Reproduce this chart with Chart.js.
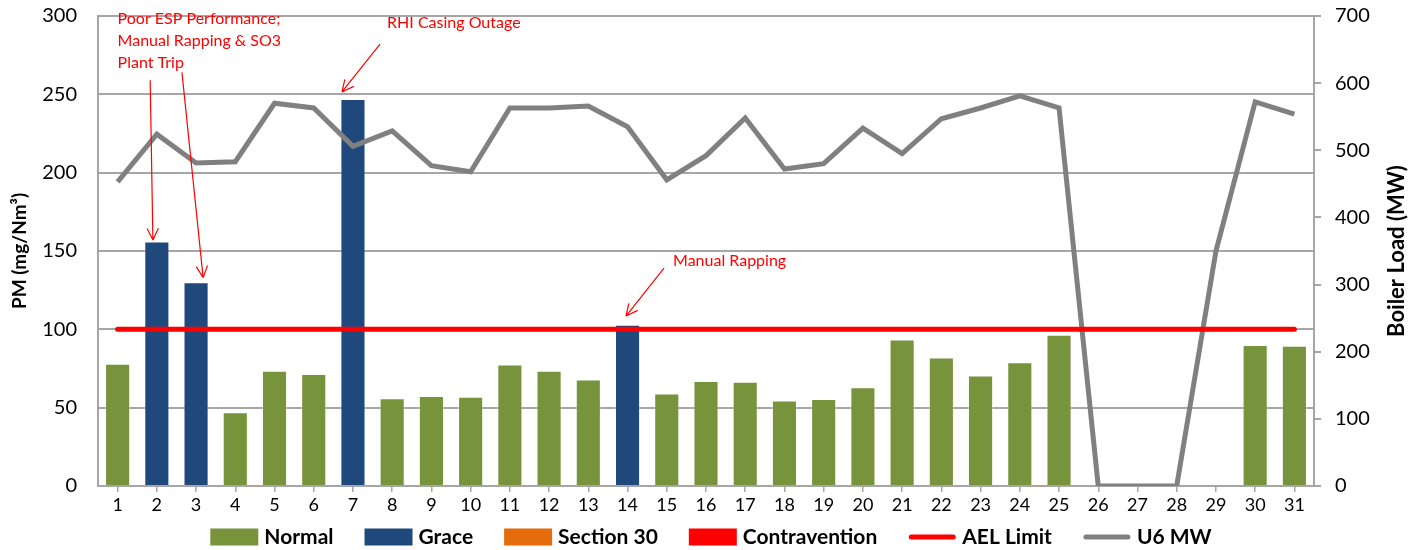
<!DOCTYPE html>
<html>
<head>
<meta charset="utf-8">
<script src="https://cdn.jsdelivr.net/npm/chart.js@4.4.1/dist/chart.umd.min.js"></script>
<style>
  html, body { margin: 0; padding: 0; background: #fff; }
  #wrap { width: 1422px; height: 550px; }
</style>
</head>
<body>
<div id="wrap"><canvas id="pmChart"></canvas></div>
<script>
// === Daily PM vs Boiler Load ===

const days = ['1', '2', '3', '4', '5', '6', '7', '8', '9', '10', '11', '12', '13', '14', '15', '16',
  '17', '18', '19', '20', '21', '22', '23', '24', '25', '26', '27', '28', '29', '30', '31'];

const pmValues = [78, 156, 130, 47, 73.5, 71.5, 247, 56, 57.5, 57, 77.5, 73.5, 68, 103, 59, 67,
  66.5, 54.5, 55.5, 63, 93.5, 82, 70.5, 79, 96.5, null, null, null, null, 90, 89.5];

const pmStatus = ['Normal', 'Grace', 'Grace', 'Normal', 'Normal', 'Normal', 'Grace', 'Normal',
  'Normal', 'Normal', 'Normal', 'Normal', 'Normal', 'Grace', 'Normal', 'Normal', 'Normal', 'Normal',
  'Normal', 'Normal', 'Normal', 'Normal', 'Normal', 'Normal', 'Normal', 'Normal', 'Normal', 'Normal',
  'Normal', 'Normal', 'Normal'];

const aelLimit = [100, 100, 100, 100, 100, 100, 100, 100, 100, 100, 100, 100, 100, 100, 100, 100,
  100, 100, 100, 100, 100, 100, 100, 100, 100, 100, 100, 100, 100, 100, 100];

const u6MW = [453, 524, 481, 483, 570, 563, 506, 529, 477, 468, 563, 563, 566, 535, 456, 492,
  548, 472, 480, 533, 495, 547, 563, 581, 563, 0, 0, 0, 350, 572, 554];

const statusColors = {
  'Normal': '#77933c',
  'Grace': '#1f497d',
  'Section 30': '#e46c0a',
  'Contravention': '#ff0000'
};

// annotation text / arrows, in (day index, PM) coordinates
const notes = [
  { lines: ['Poor ESP Performance;', 'Manual Rapping & SO3', 'Plant Trip'], x: 0, y: 298 },
  { lines: ['RHI Casing Outage'], x: 6.87, y: 295.5 },
  { lines: ['Manual Rapping'], x: 14.16, y: 144 }
];
const arrows = [
  { from: [0.83, 259], to: [0.9, 157] },
  { from: [1.64, 264], to: [2.18, 133] },
  { from: [6.69, 282], to: [5.72, 251.5] },
  { from: [13.93, 139], to: [12.96, 108.5] }
];

const FONT = 'Lato, "Open Sans", sans-serif';
const GRID = '#a6a6a6';

const barSets = Object.keys(statusColors).map(status => ({
  type: 'bar',
  label: status,
  data: pmValues.map((v, i) => pmStatus[i] === status ? v : null),
  backgroundColor: statusColors[status],
  borderColor: 'rgba(255,255,255,0.35)',
  borderWidth: 1,
  grouped: false,
  barPercentage: 0.64,
  categoryPercentage: 1,
  yAxisID: 'y',
  order: 2
}));

const annotations = {
  id: 'annotations',
  afterDatasetsDraw(chart) {
    const { ctx, scales: { x, y } } = chart;
    ctx.save();
    ctx.fillStyle = '#ff0000';
    ctx.strokeStyle = '#ff0000';
    ctx.lineWidth = 1.2;
    ctx.font = '16px ' + FONT;
    ctx.textAlign = 'left';
    ctx.textBaseline = 'middle';
    notes.forEach(n => {
      const px = x.getPixelForValue(n.x);
      const py = y.getPixelForValue(n.y);
      n.lines.forEach((t, k) => ctx.fillText(t, px, py + k * 22));
    });
    arrows.forEach(a => {
      const x0 = x.getPixelForValue(a.from[0]), y0 = y.getPixelForValue(a.from[1]);
      const x1 = x.getPixelForValue(a.to[0]), y1 = y.getPixelForValue(a.to[1]);
      const ang = Math.atan2(y1 - y0, x1 - x0);
      ctx.beginPath();
      ctx.moveTo(x0, y0);
      ctx.lineTo(x1, y1);
      [0.45, -0.45].forEach(d => {
        ctx.moveTo(x1, y1);
        ctx.lineTo(x1 - 13 * Math.cos(ang + d), y1 - 13 * Math.sin(ang + d));
      });
      ctx.stroke();
    });

    // right axis title reads bottom-to-top like the left one
    const r = chart.scales.y1;
    ctx.fillStyle = '#000';
    ctx.font = 'bold 22px ' + FONT;
    ctx.textAlign = 'center';
    ctx.textBaseline = 'middle';
    ctx.translate(1397, (r.top + r.bottom) / 2);
    ctx.rotate(-Math.PI / 2);
    ctx.fillText('Boiler Load (MW)', 0, 0);
    ctx.restore();
  }
};

// legend drawn by hand so spacing matches the original
const bottomLegend = {
  id: 'bottomLegend',
  afterDraw(chart) {
    const ctx = chart.ctx;
    const items = chart.data.datasets.map(ds => ({
      label: ds.label,
      color: ds.type === 'line' ? ds.borderColor : ds.backgroundColor,
      line: ds.type === 'line'
    }));
    ctx.save();
    ctx.font = 'bold 21px ' + FONT;
    ctx.textBaseline = 'middle';
    const boxW = 48, boxH = 17, gap = 6, spacing = 31;
    const widths = items.map(it => boxW + gap + ctx.measureText(it.label).width);
    const total = widths.reduce((s, w) => s + w, 0) + spacing * (items.length - 1);
    let cx = chart.width / 2 - total / 2;
    const cy = 537;
    items.forEach((it, i) => {
      if (it.line) {
        ctx.strokeStyle = it.color;
        ctx.lineWidth = 5;
        ctx.lineCap = 'round';
        ctx.beginPath();
        ctx.moveTo(cx + 3, cy);
        ctx.lineTo(cx + boxW - 3, cy);
        ctx.stroke();
      } else {
        ctx.fillStyle = it.color;
        ctx.fillRect(cx, cy - boxH / 2, boxW, boxH);
      }
      ctx.fillStyle = '#000';
      ctx.fillText(it.label, cx + boxW + gap, cy);
      cx += widths[i] + spacing;
    });
    ctx.restore();
  }
};

// fixed axis widths; let the top tick labels hang above the plot like Excel does
const fitY = width => s => {
  s.width = width;
  s.paddingTop = 0;
  s.paddingBottom = 0;
};

new Chart(document.getElementById('pmChart'), {
  data: {
    labels: days,
    datasets: [
      ...barSets,
      {
        type: 'line',
        label: 'AEL Limit',
        data: aelLimit,
        borderColor: '#ff0000',
        backgroundColor: '#ff0000',
        borderWidth: 5,
        borderCapStyle: 'round',
        pointRadius: 0,
        yAxisID: 'y',
        order: 0
      },
      {
        type: 'line',
        label: 'U6 MW',
        data: u6MW,
        borderColor: '#808080',
        backgroundColor: '#808080',
        borderWidth: 5,
        pointRadius: 0,
        tension: 0,
        yAxisID: 'y1',
        order: 1
      }
    ]
  },
  options: {
    responsive: true,
    maintainAspectRatio: false,
    animation: false,
    layout: { padding: { top: 16, left: 0, right: 0, bottom: 0 } },
    plugins: {
      legend: { display: false },
      tooltip: { enabled: false }
    },
    scales: {
      x: {
        offset: true,
        grid: { offset: false, drawOnChartArea: false, color: GRID, lineWidth: 1.5, tickLength: 6 },
        border: { color: GRID, width: 2 },
        ticks: { color: '#000', font: { family: FONT, size: 18 }, padding: 2, maxRotation: 0, autoSkip: false },
        afterFit: s => { s.height = 64; }
      },
      y: {
        position: 'left',
        min: 0,
        max: 300,
        ticks: { stepSize: 50, color: '#000', font: { family: FONT, size: 20 }, padding: 21 },
        grid: { color: GRID, lineWidth: 2, drawTicks: false },
        border: { color: GRID, width: 2 },
        title: {
          display: true,
          text: 'PM (mg/Nm³)',
          color: '#000',
          font: { family: FONT, size: 19, weight: 'bold' },
          padding: { top: 8, bottom: 0 }
        },
        afterFit: fitY(98)
      },
      y1: {
        position: 'right',
        min: 0,
        max: 700,
        ticks: { stepSize: 100, color: '#000', font: { family: FONT, size: 20 }, padding: 14 },
        grid: { drawOnChartArea: false, color: GRID, lineWidth: 2, tickLength: 7 },
        border: { color: GRID, width: 2 },
        afterFit: fitY(108)
      }
    }
  },
  plugins: [annotations, bottomLegend]
});
</script>
</body>
</html>
